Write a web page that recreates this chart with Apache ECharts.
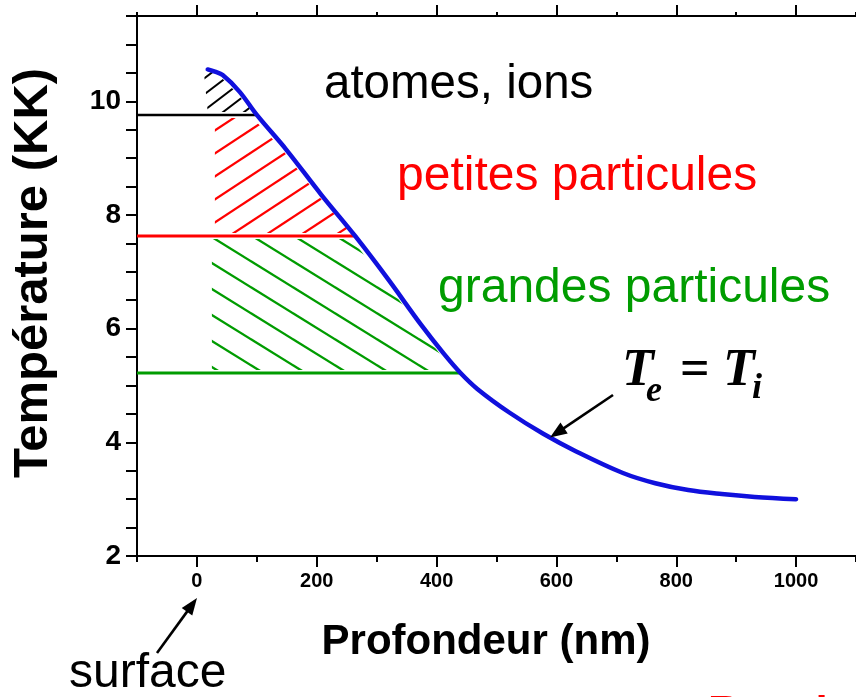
<!DOCTYPE html>
<html>
<head>
<meta charset="utf-8">
<script src="https://cdn.jsdelivr.net/npm/echarts@6/dist/echarts.min.js"></script>
<style>
  html, body { margin: 0; padding: 0; background: #ffffff; }
  #chart { width: 856px; height: 697px; }
</style>
</head>
<body>
<div id="chart"></div>
<script>
// Temperature profile (KK) against depth below the surface (nm)
const depthNm = [18, 30, 43, 71, 100, 149, 208, 264, 319, 374, 412, 440,
                 468, 522, 578, 633, 711, 765, 820, 876, 931, 1000];
const temperatureKK = [10.56, 10.52, 10.46, 10.17, 9.76, 9.15, 8.35, 7.63, 6.87, 6.07, 5.56, 5.22,
                       4.94, 4.52, 4.15, 3.84, 3.46, 3.28, 3.16, 3.09, 3.04, 3.00];

// Condensation regimes: label, lower temperature bound (KK), depth where the hatching begins
const regimeNames = ['atomes, ions', 'petites particules', 'grandes particules'];
const regimeLevels = [9.76, 7.63, 5.22];
const regimeStartDepth = [18, 30, 25];

// Axis ticks and labels
const xMajorTicks = [0, 200, 400, 600, 800, 1000];
const xMinorTicks = [-100, 100, 300, 500, 700, 900, 1100];
const yLabelValues = [2, 4, 6, 8, 10];

const regimeColors = ['#000000', '#ff0000', '#009c00'];
const curveColor = '#1010dd';
const SANS = '"Liberation Sans", Arial, Helvetica, sans-serif';
const SERIF = '"Liberation Serif", "Times New Roman", serif';

const chart = echarts.init(document.getElementById('chart'), null, { renderer: 'canvas' });

// depth where the profile reaches a given temperature
function crossingDepth(level) {
  for (let i = 0; i < depthNm.length - 1; i++) {
    const t0 = temperatureKK[i], t1 = temperatureKK[i + 1];
    if ((t0 - level) * (t1 - level) <= 0 && t0 !== t1) {
      return depthNm[i] + (level - t0) / (t1 - t0) * (depthNm[i + 1] - depthNm[i]);
    }
  }
  return depthNm[depthNm.length - 1];
}

// outline of one hatched regime, in data units, each vertex tagged with its edge
function regimeOutline(i) {
  const lo = regimeLevels[i];
  const hi = i > 0 ? regimeLevels[i - 1] : null;
  const x0 = regimeStartDepth[i];
  const pts = [{ v: [x0, lo], kind: 'bottom' }];
  if (hi === null) {
    depthNm.forEach((d, k) => {
      if (temperatureKK[k] > lo) pts.push({ v: [d, temperatureKK[k]], kind: 'curve' });
    });
  } else {
    pts.push({ v: [x0, hi], kind: 'top' });
    pts.push({ v: [crossingDepth(hi), hi], kind: 'topcurve' });
    depthNm.forEach((d, k) => {
      const t = temperatureKK[k];
      if (t < hi && t > lo) pts.push({ v: [d, t], kind: 'curve' });
    });
  }
  pts.push({ v: [crossingDepth(lo), lo], kind: 'bottomcurve' });
  return pts;
}

// repeating tile of parallel hatch strokes
function hatchTile(color, gap, slope, rising, width, phase) {
  const h = gap, w = Math.round(gap / slope);
  const s = h / w;
  const c = document.createElement('canvas');
  c.width = w; c.height = h;
  const g = c.getContext('2d');
  g.strokeStyle = color;
  g.lineWidth = width;
  for (let k = -2; k <= 2; k++) {
    const off = k * h + phase;
    g.beginPath();
    if (rising) { g.moveTo(-w, off + h + s * w); g.lineTo(2 * w, off + h - 2 * s * w); }
    else { g.moveTo(-w, off - s * w); g.lineTo(2 * w, off + 2 * s * w); }
    g.stroke();
  }
  return c;
}

const hatchTiles = [
  hatchTile(regimeColors[0], 16, 0.75, true, 2, 10),
  hatchTile(regimeColors[1], 23, 0.65, true, 2.2, 18.6),
  hatchTile(regimeColors[2], 26, 0.62, false, 2.2, 1.9)
];

const inset = {
  bottom: [0, -3], top: [0, 3], curve: [-4, 0], topcurve: [-4, 3], bottomcurve: [-4, -3]
};

const hatchSeries = regimeLevels.map((lvl, i) => ({
  type: 'custom',
  name: regimeNames[i],
  silent: true,
  z: 1,
  data: [[0, lvl]],
  renderItem: function (params, api) {
    const pts = regimeOutline(i).map(o => {
      const p = api.coord(o.v);
      const d = inset[o.kind];
      return [p[0] + d[0], p[1] + d[1]];
    });
    return {
      type: 'polygon',
      shape: { points: pts },
      style: { fill: { image: hatchTiles[i], repeat: 'repeat' }, stroke: null }
    };
  }
}));

const levelSeries = regimeLevels.map((lvl, i) => ({
  type: 'line',
  silent: true,
  z: 2,
  showSymbol: false,
  symbol: 'none',
  lineStyle: { color: regimeColors[i], width: i === 0 ? 2.5 : 3 },
  data: [[-100, lvl], [crossingDepth(lvl), lvl]]
}));

const profileSeries = {
  type: 'line',
  silent: true,
  z: 5,
  smooth: 0.35,
  showSymbol: false,
  symbol: 'none',
  lineStyle: { color: curveColor, width: 4.5, cap: 'round' },
  data: depthNm.map((d, k) => [d, temperatureKK[k]])
};

function xAxisDef(position, values, len, withLabels) {
  return {
    type: 'value',
    min: -100,
    max: 1100,
    position: position,
    axisLine: { show: true, onZero: false, lineStyle: { color: '#000', width: 2 } },
    axisTick: { show: true, customValues: values, length: len, inside: false, lineStyle: { color: '#000', width: 2 } },
    axisLabel: withLabels ? {
      show: true, customValues: values, margin: 15, color: '#000',
      fontFamily: SANS, fontSize: 20, fontWeight: 'bold',
      formatter: v => String(v)
    } : { show: false },
    splitLine: { show: false }
  };
}

// arrow annotation: shaft plus filled head
function arrow(x1, y1, x2, y2) {
  const dx = x2 - x1, dy = y2 - y1, L = Math.hypot(dx, dy);
  const ux = dx / L, uy = dy / L, hl = 17, hw = 6.5;
  const bx = x2 - ux * hl, by = y2 - uy * hl;
  return [
    { type: 'line', shape: { x1: x1, y1: y1, x2: bx + ux * 2, y2: by + uy * 2 },
      style: { stroke: '#000', lineWidth: 2.6 }, z: 10 },
    { type: 'polygon', shape: { points: [[x2, y2], [bx - uy * hw, by + ux * hw], [bx + uy * hw, by - ux * hw]] },
      style: { fill: '#000' }, z: 10 }
  ];
}

function label(text, x, y, font, color) {
  return {
    type: 'text', x: x, y: y, z: 10,
    style: { text: text, font: font, fill: color, align: 'left', verticalAlign: 'middle' }
  };
}

const graphics = [
  { type: 'text', x: 33, y: 273, rotation: Math.PI / 2, z: 10,
    style: { text: 'Température (KK)', font: 'bold 49px ' + SANS, fill: '#000', align: 'center', verticalAlign: 'middle' } },
  { type: 'text', x: 486, y: 642, z: 10,
    style: { text: 'Profondeur (nm)', font: 'bold 42px ' + SANS, fill: '#000', align: 'center', verticalAlign: 'middle' } },
  label(regimeNames[0], 324, 85, '47.5px ' + SANS, regimeColors[0]),
  label(regimeNames[1], 397, 177, '48px ' + SANS, regimeColors[1]),
  label(regimeNames[2], 438, 289, '48px ' + SANS, regimeColors[2]),
  label('surface', 69, 674, '48px ' + SANS, '#000'),
  label('Recul', 708, 715, 'bold 44px ' + SANS, '#ff0000'),
  label('T', 622, 372, 'italic bold 52px ' + SERIF, '#000'),
  label('e', 646, 392, 'italic bold 36px ' + SERIF, '#000'),
  label('=', 680, 372, 'bold 52px ' + SERIF, '#000'),
  label('T', 723, 372, 'italic bold 52px ' + SERIF, '#000'),
  label('i', 752, 389, 'italic bold 36px ' + SERIF, '#000')
].concat(arrow(157, 653, 197, 598), arrow(613, 395, 550, 437.5));

chart.setOption({
  animation: false,
  backgroundColor: '#ffffff',
  grid: { left: 137, top: 16, right: -8, bottom: 141, containLabel: false },
  xAxis: [
    xAxisDef('bottom', xMajorTicks, 11, true),
    xAxisDef('bottom', xMinorTicks, 6, false),
    xAxisDef('top', xMajorTicks, 11, false),
    xAxisDef('top', xMinorTicks, 4, false)
  ],
  yAxis: {
    type: 'value',
    min: 2,
    max: 11.5,
    interval: 0.5,
    axisLine: { show: true, onZero: false, lineStyle: { color: '#000', width: 2 } },
    axisTick: { show: true, length: 11, inside: false, lineStyle: { color: '#000', width: 2 } },
    axisLabel: {
      show: true, customValues: yLabelValues, margin: 16, color: '#000',
      fontFamily: SANS, fontSize: 28, fontWeight: 'bold', formatter: v => String(v)
    },
    splitLine: { show: false }
  },
  series: hatchSeries.concat(levelSeries, [profileSeries]),
  graphic: graphics
});
</script>
</body>
</html>
